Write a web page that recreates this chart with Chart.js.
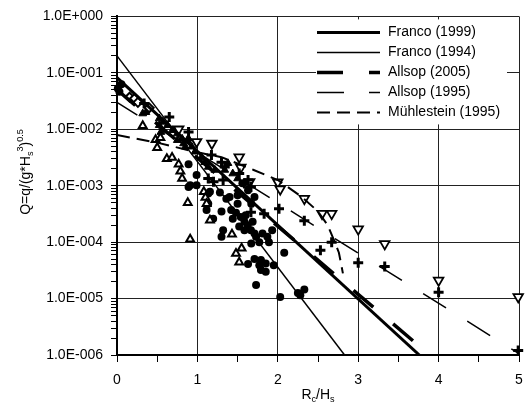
<!DOCTYPE html>
<html>
<head>
<meta charset="utf-8">
<script src="https://cdn.jsdelivr.net/npm/chart.js@4"></script>
<style>
  html, body { margin: 0; padding: 0; background: #fff; }
</style>
</head>
<body>
<canvas id="chart" width="527" height="407"></canvas>
<script>
// Overtopping formulas (straight on log-y, so two ends are enough)
const franco1999X = [0, 3.76];
const franco1999Q = [0.082, 1.0e-6];
const franco1994X = [0, 2.83];
const franco1994Q = [0.2, 1.0e-6];
const allsop2005X = [0, 3.89];
const allsop2005Q = [0.05, 1.0e-6];
const allsop1995X = [0, 5];
const allsop1995Q = [0.03, 1.06e-6];
const muhlesteinX = [0, 0.5, 1.0, 1.3, 1.7, 2.0, 2.3, 2.5, 2.62, 2.71, 2.76, 2.81];
const muhlesteinQ = [7.9e-3, 5.8e-3, 3.9e-3, 3.2e-3, 1.9e-3, 1.26e-3, 6.3e-4, 3.5e-4, 2.0e-4, 1.0e-4, 6.5e-5, 2.8e-5];

// Measured overtopping rates
const circlesX = [0.01, 0.055, 0.03, 0.89, 0.89, 0.91, 0.99, 0.99, 1.135, 1.156, 1.114, 1.135, 1.28, 1.36, 1.40, 1.50, 1.50,
  1.30, 1.196, 1.42, 1.44, 1.54, 1.585, 1.626, 1.687, 1.585, 1.666, 1.71, 1.32, 1.30, 1.73, 1.81, 1.87, 1.93, 1.77, 1.67,
  1.89, 2.08, 1.63, 1.71, 1.79, 1.85, 1.77, 1.79, 1.85, 1.95, 1.73, 2.03, 2.25, 2.33, 2.28, 1.56, 1.63, 1.71, 1.67,
  1.48, 1.60, 1.52];
const circlesQ = [0.053, 0.063, 0.046, 2.4e-3, 9.5e-4, 1.02e-3, 1.54e-3, 1.02e-3, 7.3e-4, 7.8e-4, 3.7e-4, 4.8e-4, 7.6e-4, 5.9e-4, 6.3e-4, 4.8e-4, 6.8e-4,
  3.5e-4, 2.6e-4, 3.7e-4, 2.6e-4, 2.8e-4, 2.3e-4, 2.0e-4, 2.3e-4, 1.63e-4, 1.63e-4, 1.42e-4, 1.63e-4, 1.24e-4, 1.24e-4, 1.42e-4, 1.24e-4, 1.63e-4, 1.0e-4, 9.5e-5,
  1.0e-4, 6.5e-5, 4.1e-5, 5.0e-5, 4.8e-5, 4.2e-5, 3.9e-5, 3.2e-5, 3.0e-5, 3.9e-5, 1.74e-5, 1.07e-5, 1.26e-5, 1.45e-5, 1.15e-5, 1.1e-3, 8.3e-4, 6.3e-4, 4.8e-4,
  3.3e-4, 3.0e-4, 1.9e-4];

const trianglesX = [0.32, 0.48, 0.54, 0.50, 0.62, 0.685, 0.767, 0.788, 0.81, 0.88, 1.08, 1.10, 1.114, 1.156, 0.91, 1.43, 1.48, 1.55, 1.52];
const trianglesQ = [1.15e-2, 6.5e-3, 7.1e-3, 4.7e-3, 3.0e-3, 3.15e-3, 2.4e-3, 1.8e-3, 1.34e-3, 5.0e-4, 7.8e-4, 6.2e-4, 4.8e-4, 2.45e-4, 1.12e-4, 1.38e-4, 6.3e-5, 7.8e-5, 4.4e-5];

const invTrianglesX = [0.767, 0.99, 1.18, 1.52, 1.54, 1.65, 2.0, 2.03, 2.33, 2.55, 2.67, 3.0, 3.33, 4.0, 4.99];
const invTrianglesQ = [1.0e-2, 6.0e-3, 5.6e-3, 3.2e-3, 2.1e-3, 1.17e-3, 1.15e-3, 8.7e-4, 5.9e-4, 3.2e-4, 3.2e-4, 1.7e-4, 9.3e-5, 2.1e-5, 1.07e-5];

const crossesX = [0.337, 0.65, 0.89, 1.175, 1.30, 1.34, 1.135, 1.2, 1.32, 1.52, 1.585, 1.63, 1.666, 1.666, 1.83, 2.015, 2.33, 2.53, 2.67, 3.0, 3.33, 4.0, 4.99];
const crossesQ = [2.85e-2, 1.65e-2, 8.9e-3, 3.5e-3, 2.6e-3, 2.15e-3, 1.34e-3, 1.17e-3, 1.26e-3, 1.64e-3, 1.09e-3, 1.26e-3, 9.5e-4, 3.4e-4, 3.2e-4, 3.9e-4, 2.4e-4, 7.2e-5, 1.0e-4, 4.3e-5, 3.7e-5, 1.3e-5, 1.2e-6];

const solidTrianglesX = [0.32, 0.36, 0.525, 0.567, 0.628, 0.525, 0.546, 0.69, 0.75, 0.81, 0.874, 0.75, 0.85, 0.828, 0.89, 0.93, 0.97, 1.05, 1.09, 1.135, 1.217, 1.34, 1.38, 1.44, 1.5];
const solidTrianglesQ = [1.9e-2, 2.0e-2, 1.55e-2, 1.35e-2, 1.18e-2, 1.18e-2, 8.9e-3, 9.6e-3, 8.4e-3, 6.8e-3, 6.4e-3, 6.4e-3, 4.9e-3, 5.6e-3, 6.8e-3, 4.9e-3, 4.0e-3, 3.2e-3, 2.6e-3, 2.15e-3, 1.9e-3, 1.9e-3, 2.5e-3, 1.64e-3, 1.34e-3];

const diamondsX = [0.157, 0.218, 0.26, 0.40];
const diamondsQ = [3.7e-2, 3.5e-2, 3.0e-2, 2.4e-2];

const FONT = '"Liberation Sans", Arial, sans-serif';

function pts(xs, qs) {
  return xs.map((x, i) => ({ x: x, y: qs[i] }));
}

function expLabel(v) {
  const e = Math.round(Math.log10(v));
  return '1.0E' + (e < 0 ? '-' : '+') + String(Math.abs(e)).padStart(3, '0');
}

function lineSet(label, xs, qs, width, dash, offset) {
  return {
    label: label,
    data: pts(xs, qs),
    showLine: true,
    borderColor: '#000',
    borderWidth: width,
    borderDash: dash,
    borderDashOffset: offset || 0,
    pointRadius: 0,
    fill: false,
    inLegend: true
  };
}

function markerSet(xs, qs, style, radius, fillColor, lineWidth, rotation) {
  return {
    data: pts(xs, qs),
    showLine: false,
    pointStyle: style,
    pointRadius: radius,
    pointRotation: rotation || 0,
    pointBackgroundColor: fillColor,
    pointBorderColor: '#000',
    pointBorderWidth: lineWidth,
    clip: false
  };
}

// text with sub/superscript pieces, drawn left to right from x
function richText(ctx, parts, x, y, size) {
  let cx = x;
  parts.forEach(p => {
    const s = p.sub || p.sup ? size * 0.65 : size;
    ctx.font = s + 'px ' + FONT;
    const dy = p.sub ? size * 0.3 : p.sup ? -size * 0.38 : 0;
    ctx.fillText(p.t, cx, y + dy);
    cx += ctx.measureText(p.t).width;
  });
  return cx - x;
}

function richWidth(ctx, parts, size) {
  let w = 0;
  parts.forEach(p => {
    const s = p.sub || p.sup ? size * 0.65 : size;
    ctx.font = s + 'px ' + FONT;
    w += ctx.measureText(p.t).width;
  });
  return w;
}

const innerLegend = {
  id: 'innerLegend',
  afterDatasetsDraw(chart) {
    const { ctx, chartArea } = chart;
    const left = chartArea.right - 203;
    const top = chartArea.top + 3;
    const entries = chart.data.datasets.filter(d => d.inLegend);
    ctx.save();
    ctx.fillStyle = '#fff';
    ctx.fillRect(left, top, 191, 105);
    ctx.textBaseline = 'middle';
    entries.forEach((d, i) => {
      const y = top + 13 + i * 20;
      ctx.beginPath();
      ctx.strokeStyle = d.borderColor;
      ctx.lineWidth = d.borderWidth;
      ctx.setLineDash(d.borderDash || []);
      ctx.moveTo(left + 1, y);
      ctx.lineTo(left + 64, y);
      ctx.stroke();
      ctx.setLineDash([]);
      ctx.fillStyle = '#000';
      ctx.font = '14px ' + FONT;
      ctx.fillText(d.label, left + 72, y);
    });
    ctx.restore();
  }
};

const axisTitles = {
  id: 'axisTitles',
  afterDraw(chart) {
    const { ctx, chartArea } = chart;
    ctx.save();
    ctx.fillStyle = '#000';
    ctx.textBaseline = 'middle';

    const xParts = [{ t: 'R' }, { t: 'c', sub: true }, { t: '/H' }, { t: 's', sub: true }];
    const xw = richWidth(ctx, xParts, 14);
    richText(ctx, xParts, (chartArea.left + chartArea.right) / 2 - xw / 2, 395, 14);

    const yParts = [{ t: 'Q=q/(g*H' }, { t: 's', sub: true }, { t: '3', sup: true }, { t: ')' }, { t: '0.5', sup: true }];
    const yw = richWidth(ctx, yParts, 14);
    ctx.translate(26, 172);
    ctx.rotate(-Math.PI / 2);
    richText(ctx, yParts, -yw / 2, 0, 14);
    ctx.restore();
  }
};

Chart.defaults.font.family = FONT;
Chart.defaults.font.size = 14;
Chart.defaults.color = '#000';

new Chart(document.getElementById('chart'), {
  type: 'scatter',
  data: {
    datasets: [
      lineSet('Franco (1999)', franco1999X, franco1999Q, 3, []),
      lineSet('Franco (1994)', franco1994X, franco1994Q, 1.5, []),
      lineSet('Allsop (2005)', allsop2005X, allsop2005Q, 3.5, [26, 26], 2),
      lineSet('Allsop (1995)', allsop1995X, allsop1995Q, 1.5, [27, 25], 3),
      lineSet('Mühlestein (1995)', muhlesteinX, muhlesteinQ, 2, [13, 7]),
      markerSet(crossesX, crossesQ, 'cross', 5, '#000', 3),
      markerSet(invTrianglesX, invTrianglesQ, 'triangle', 5.5, '#fff', 1.8, 180),
      markerSet(trianglesX, trianglesQ, 'triangle', 4.5, '#fff', 2),
      markerSet(diamondsX, diamondsQ, 'rectRot', 4.5, '#fff', 2),
      markerSet(solidTrianglesX, solidTrianglesQ, 'triangle', 4.5, '#000', 1),
      markerSet(circlesX, circlesQ, 'circle', 4, '#000', 0)
    ]
  },
  options: {
    responsive: false,
    animation: false,
    layout: { padding: { left: 0, right: 2, top: 16, bottom: 0 } },
    plugins: { legend: { display: false }, tooltip: { enabled: false } },
    scales: {
      x: {
        type: 'linear',
        min: 0,
        max: 5,
        ticks: {
          stepSize: 0.5,
          padding: 10,
          maxRotation: 0,
          autoSkip: false,
          callback: v => (Number.isInteger(v) ? String(v) : '')
        },
        grid: {
          color: c => (c.tick && Number.isInteger(c.tick.value) ? '#222' : 'rgba(0,0,0,0)'),
          tickColor: '#000',
          tickLength: 7,
          lineWidth: 1
        },
        border: { color: '#000', width: 2 },
        afterFit(s) {
          s.height = 52;
          s.paddingLeft = 0;
          s.paddingRight = 0;
        }
      },
      y: {
        type: 'logarithmic',
        min: 1e-6,
        max: 1,
        afterBuildTicks(s) {
          const t = [];
          for (let e = -6; e < 0; e++) {
            for (let k = 1; k < 10; k++) t.push({ value: k * Math.pow(10, e), major: k === 1 });
          }
          t.push({ value: 1, major: true });
          s.ticks = t;
        },
        ticks: {
          autoSkip: false,
          padding: 8,
          callback: (v, i, t) => (t[i] && t[i].major ? expLabel(v) : '')
        },
        grid: {
          color: c => (c.tick && c.tick.major ? '#222' : 'rgba(0,0,0,0)'),
          tickColor: '#000',
          tickLength: 6,
          lineWidth: 1
        },
        border: { color: '#000', width: 2 },
        afterFit(s) {
          s.width = 117;
        }
      }
    }
  },
  plugins: [innerLegend, axisTitles]
});
</script>
</body>
</html>
